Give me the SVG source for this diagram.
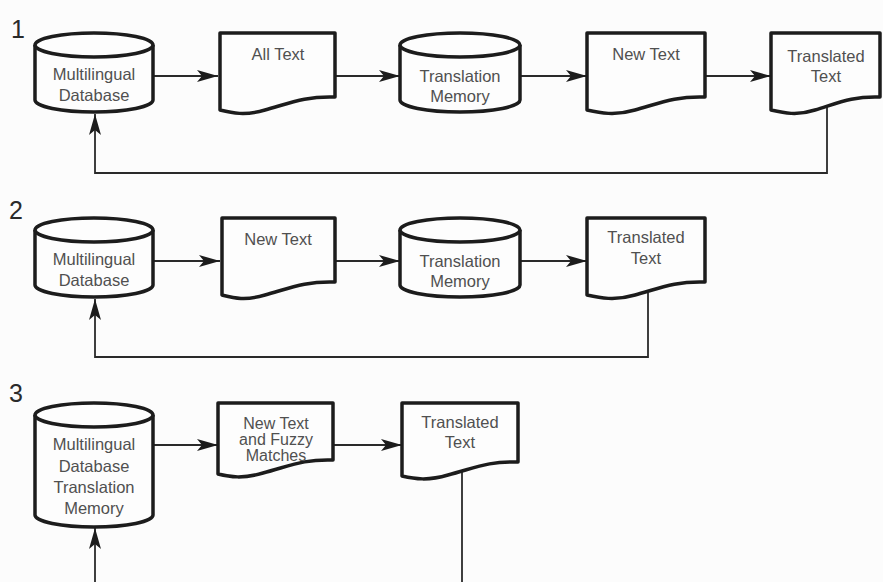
<svg xmlns="http://www.w3.org/2000/svg" width="883" height="582" viewBox="0 0 883 582">
<defs>
<style>
.shape{fill:#fdfdfd;stroke:#1c1c1c;stroke-width:3.5;stroke-linejoin:round}
.lbl{font-family:"Liberation Sans",Arial,sans-serif;font-size:16.5px;fill:#505050;text-anchor:middle}
.sm{font-size:16px}
.num{font-family:"Liberation Sans",Arial,sans-serif;font-size:25px;fill:#2a2a2a}
.conn{fill:none;stroke:#2a2a2a;stroke-width:1.8}
</style>
<marker id="ah" markerUnits="userSpaceOnUse" markerWidth="24" markerHeight="14" viewBox="-22 -7 24 14" refX="0" refY="0" orient="auto">
<path d="M0,0 L-21,-6 L-16,0 L-21,6 Z" fill="#1c1c1c"/>
</marker>
</defs>
<rect width="883" height="582" fill="#fcfcfc"/>

<text class="num" x="11" y="38">1</text>
<text class="num" x="9" y="219">2</text>
<text class="num" x="9" y="402">3</text>

<g id="connectors">
<path class="conn" d="M153,76 H218" marker-end="url(#ah)"/>
<path class="conn" d="M335,76 H400" marker-end="url(#ah)"/>
<path class="conn" d="M520,76 H587" marker-end="url(#ah)"/>
<path class="conn" d="M705,76 H771" marker-end="url(#ah)"/>
<path class="conn" d="M827,107 V173 H95 V114" marker-end="url(#ah)"/>

<path class="conn" d="M153,261 H220" marker-end="url(#ah)"/>
<path class="conn" d="M335,261 H400" marker-end="url(#ah)"/>
<path class="conn" d="M520,261 H587" marker-end="url(#ah)"/>
<path class="conn" d="M648,293 V357 H95 V299" marker-end="url(#ah)"/>

<path class="conn" d="M153,445 H218" marker-end="url(#ah)"/>
<path class="conn" d="M333,445 H402" marker-end="url(#ah)"/>
<path class="conn" d="M462,472 V582"/>
<path class="conn" d="M95,582 V528" marker-end="url(#ah)"/>
</g>

<g id="row1-multilingual-db">
<path class="shape" d="M35,45 A59,12 0 0 1 153,45 V100 A59,12 0 0 1 35,100 Z"/>
<path class="shape" d="M35,45 A59,12 0 0 0 153,45"/>
<text class="lbl" x="94" y="80">Multilingual</text>
<text class="lbl" x="94" y="101">Database</text>
</g>
<g id="row1-all-text">
<path class="shape" d="M220,33 H335 V97 C305,96 290,103 265,110 C245,116 232,113 220,110 Z"/>
<text class="lbl" x="278" y="60">All Text</text>
</g>
<g id="row1-translation-memory">
<path class="shape" d="M400,45 A60,12 0 0 1 520,45 V100 A60,12 0 0 1 400,100 Z"/>
<path class="shape" d="M400,45 A60,12 0 0 0 520,45"/>
<text class="lbl" x="460" y="82">Translation</text>
<text class="lbl" x="460" y="102">Memory</text>
</g>
<g id="row1-new-text">
<path class="shape" d="M587,33 H705 V97 C675,96 660,103 635,110 C615,116 600,113 587,110 Z"/>
<text class="lbl" x="646" y="60">New Text</text>
</g>
<g id="row1-translated-text">
<path class="shape" d="M771,33 H880 V97 C852,96 838,103 815,110 C797,116 784,113 771,110 Z"/>
<text class="lbl" x="826" y="62">Translated</text>
<text class="lbl" x="826" y="82">Text</text>
</g>

<g id="row2-multilingual-db">
<path class="shape" d="M35,230 A59,12 0 0 1 153,230 V285 A59,12 0 0 1 35,285 Z"/>
<path class="shape" d="M35,230 A59,12 0 0 0 153,230"/>
<text class="lbl" x="94" y="265">Multilingual</text>
<text class="lbl" x="94" y="286">Database</text>
</g>
<g id="row2-new-text">
<path class="shape" d="M222,218 H335 V282 C305,281 290,288 265,295 C245,301 234,298 222,295 Z"/>
<text class="lbl" x="278" y="245">New Text</text>
</g>
<g id="row2-translation-memory">
<path class="shape" d="M400,230 A60,12 0 0 1 520,230 V285 A60,12 0 0 1 400,285 Z"/>
<path class="shape" d="M400,230 A60,12 0 0 0 520,230"/>
<text class="lbl" x="460" y="267">Translation</text>
<text class="lbl" x="460" y="287">Memory</text>
</g>
<g id="row2-translated-text">
<path class="shape" d="M587,218 H705 V282 C675,281 660,288 635,295 C615,301 600,298 587,295 Z"/>
<text class="lbl" x="646" y="243">Translated</text>
<text class="lbl" x="646" y="264">Text</text>
</g>

<g id="row3-multilingual-db-tm">
<path class="shape" d="M35,415 A59,12 0 0 1 153,415 V515 A59,12 0 0 1 35,515 Z"/>
<path class="shape" d="M35,415 A59,12 0 0 0 153,415"/>
<text class="lbl" x="94" y="450">Multilingual</text>
<text class="lbl" x="94" y="472">Database</text>
<text class="lbl" x="94" y="493">Translation</text>
<text class="lbl" x="94" y="514">Memory</text>
</g>
<g id="row3-new-text-fuzzy">
<path class="shape" d="M218,403 H333 V460 C303,459 290,466 263,473 C243,479 230,477 218,474 Z"/>
<text class="lbl sm" x="276" y="429">New Text</text>
<text class="lbl sm" x="276" y="445">and Fuzzy</text>
<text class="lbl sm" x="276" y="461">Matches</text>
</g>
<g id="row3-translated-text">
<path class="shape" d="M402,403 H518 V462 C488,461 475,468 448,475 C428,481 415,479 402,476 Z"/>
<text class="lbl" x="460" y="428">Translated</text>
<text class="lbl" x="460" y="448">Text</text>
</g>
</svg>
